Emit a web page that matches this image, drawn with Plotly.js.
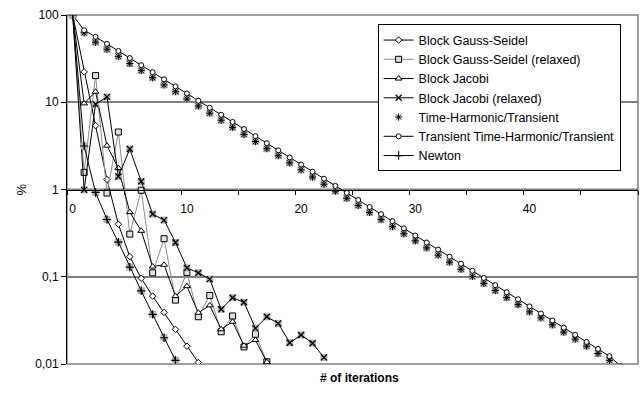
<!DOCTYPE html>
<html><head><meta charset="utf-8">
<script src="https://cdn.plot.ly/plotly-3.0.1.min.js"></script>
<style>html,body{margin:0;padding:0;background:#fff}#chart{width:644px;height:393px}</style>
</head><body><div id="chart"></div>
<script>
const iterations = [0,1,2,3,4,5,6,7,8,9,10,11,12,13,14,15,16,17,18,19,20,21,22,23,24,25,26,27,28,29,30,31,32,33,34,35,36,37,38,39,40,41,42,43,44,45,46,47,48];

const blockGaussSeidel = [100, 22.3, 5.4, 1.3, 0.40, 0.170, 0.096, 0.060, 0.039, 0.0249, 0.016, 0.0104];
const blockGaussSeidelRelaxed = [100, 1.57, 20.2, 0.91, 4.56, 0.308, 0.98, 0.111, 0.273, 0.054, 0.112, 0.0348, 0.061, 0.0234, 0.0355, 0.0157, 0.0219, 0.0106];
const blockJacobi = [100, 9.7, 13.2, 3.18, 1.76, 0.55, 0.336, 0.131, 0.137, 0.060, 0.078, 0.0387, 0.047, 0.025, 0.0305, 0.0162, 0.0188, 0.0105];
const blockJacobiRelaxed = [100, 0.99, 9.5, 11.5, 1.41, 2.91, 1.24, 0.522, 0.446, 0.247, 0.126, 0.111, 0.094, 0.0424, 0.0575, 0.051, 0.0256, 0.0348, 0.0292, 0.0175, 0.0215, 0.0173, 0.0119];
const timeHarmonicTransient = [100, 62.5, 48.8, 40.5, 33.6, 27.8, 23.1, 19.1, 15.8, 13.2, 10.9, 9.05, 7.50, 6.22, 5.15, 4.28, 3.55, 2.94, 2.44, 2.02, 1.68, 1.39, 1.15, 0.957, 0.793, 0.658, 0.546, 0.452, 0.375, 0.311, 0.258, 0.214, 0.177, 0.147, 0.122, 0.101, 0.0839, 0.0695, 0.0577, 0.0479, 0.0396, 0.0338, 0.0281, 0.0232, 0.0193, 0.0160, 0.0132, 0.0110];
const transientTimeHarmonicTransient = [100, 66.9, 56.2, 46.7, 38.7, 32.1, 26.6, 22.1, 18.3, 15.2, 12.6, 10.4, 8.65, 7.18, 5.95, 4.93, 4.09, 3.39, 2.81, 2.33, 1.93, 1.60, 1.33, 1.10, 0.915, 0.759, 0.629, 0.522, 0.433, 0.359, 0.297, 0.247, 0.205, 0.170, 0.141, 0.117, 0.0968, 0.0802, 0.0665, 0.0552, 0.0457, 0.0379, 0.0315, 0.0261, 0.0216, 0.0179, 0.0149, 0.0123, 0.0094];
const newton = [100, 3.15, 0.925, 0.453, 0.249, 0.129, 0.069, 0.037, 0.020, 0.011];

const seriesNames = ["Block Gauss-Seidel", "Block Gauss-Seidel (relaxed)", "Block Jacobi", "Block Jacobi (relaxed)", "Time-Harmonic/Transient", "Transient Time-Harmonic/Transient", "Newton"];
const yTickVals = [0.01, 0.1, 1, 10, 100];
const yTickText = ["0,01", "0,1", "1", "10", "100"];
const xLabelVals = [0, 10, 20, 30, 40];

const FONT = 'Arial, "Liberation Sans", sans-serif';
const GRAYBG = '#b0b0b0';
function xs(arr){ return iterations.slice(0, arr.length); }
function bg(arr){
  return {x: xs(arr), y: arr, mode: 'markers', showlegend: false, hoverinfo: 'skip',
    marker: {symbol: 'square', size: 7, color: GRAYBG, line: {width: 0}}};
}

const traces = [
  {x: xs(blockGaussSeidel), y: blockGaussSeidel, name: seriesNames[0], mode: 'lines+markers',
   line: {color: '#000', width: 1}, marker: {symbol: 'diamond', size: 5, color: '#fff', line: {color: '#000', width: 1}}},
  {x: xs(blockGaussSeidelRelaxed), y: blockGaussSeidelRelaxed, name: seriesNames[1], mode: 'lines+markers',
   line: {color: '#8c8c8c', width: 1}, marker: {symbol: 'square', size: 6, color: '#e0e0e0', line: {color: '#000', width: 1}}},
  {x: xs(blockJacobi), y: blockJacobi, name: seriesNames[2], mode: 'lines+markers',
   line: {color: '#000', width: 1}, marker: {symbol: 'triangle-up', size: 6, color: '#fff', line: {color: '#000', width: 1}}},
  bg(blockJacobiRelaxed),
  {x: xs(blockJacobiRelaxed), y: blockJacobiRelaxed, name: seriesNames[3], mode: 'lines+markers',
   line: {color: '#000', width: 1}, marker: {symbol: 'x-thin-open', size: 6, color: '#000', line: {color: '#000', width: 1.2}}},
  bg(timeHarmonicTransient),
  {x: xs(timeHarmonicTransient), y: timeHarmonicTransient, name: seriesNames[4], mode: 'markers',
   marker: {symbol: 'asterisk-open', size: 6, color: '#000', line: {color: '#000', width: 1}}},
  {x: xs(transientTimeHarmonicTransient), y: transientTimeHarmonicTransient, name: seriesNames[5], mode: 'lines+markers',
   line: {color: '#000', width: 1}, marker: {symbol: 'circle', size: 5, color: '#fff', line: {color: '#000', width: 1}}},
  bg(newton),
  {x: xs(newton), y: newton, name: seriesNames[6], mode: 'lines+markers',
   line: {color: '#000', width: 1}, marker: {symbol: 'cross-thin-open', size: 6, color: '#000', line: {color: '#000', width: 1.2}}}
];

const layout = {
  width: 644, height: 393,
  margin: {l: 67, r: 6, t: 15, b: 29},
  paper_bgcolor: '#fff', plot_bgcolor: '#fff',
  font: {family: FONT, size: 12, color: '#000'},
  showlegend: true,
  legend: {x: 0.544, y: 0.973, xanchor: 'left', yanchor: 'top', bgcolor: '#fff',
    bordercolor: '#000', borderwidth: 1, font: {family: FONT, size: 12.5, color: '#000'}, traceorder: 'normal'},
  xaxis: {range: [-0.5, 49.5], anchor: 'free', position: 0.5, showgrid: false, zeroline: false,
    showline: true, linecolor: '#000', linewidth: 1,
    tickmode: 'array', tickvals: xLabelVals, ticktext: xLabelVals.map(String), ticks: '',
    ticklabelstandoff: 8, tickfont: {family: FONT, size: 12, color: '#000'},
    minor: {tickmode: 'linear', tick0: 4.5, dtick: 5, ticks: 'outside', ticklen: 4, tickcolor: '#000', tickwidth: 1, showgrid: false}},
  yaxis: {type: 'log', range: [-2, 2], tickmode: 'array', tickvals: yTickVals, ticktext: yTickText,
    ticks: 'outside', ticklen: 5, tickcolor: '#000', showline: true, linecolor: '#000', linewidth: 1,
    zeroline: false, showgrid: true, gridcolor: '#808080', gridwidth: 2,
    tickfont: {family: FONT, size: 12, color: '#000'}},
  shapes: [
    {type: 'rect', xref: 'paper', yref: 'paper', x0: 0, x1: 1, y0: 0, y1: 1, line: {color: '#808080', width: 1.5}, layer: 'between'},
    {type: 'line', xref: 'paper', yref: 'y', x0: 0, x1: 1, y0: 0.1, y1: 0.1, line: {color: '#000', width: 1.5}, layer: 'between'},
    {type: 'line', xref: 'paper', yref: 'y', x0: 0, x1: 1, y0: 1, y1: 1, line: {color: '#000', width: 1.5}, layer: 'between'}
  ],
  annotations: [
    {text: '%', xref: 'paper', yref: 'paper', x: -0.0805, y: 0.5, showarrow: false, textangle: -90,
     font: {family: FONT, size: 13, color: '#000'}, xanchor: 'center', yanchor: 'middle'},
    {text: '<b># of iterations</b>', xref: 'paper', yref: 'paper', x: 0.513, y: -0.040, showarrow: false,
     font: {family: FONT, size: 12, color: '#000'}, xanchor: 'center', yanchor: 'middle'}
  ]
};

Plotly.newPlot('chart', traces, layout, {displayModeBar: false, staticPlot: true});
</script>
</body></html>
